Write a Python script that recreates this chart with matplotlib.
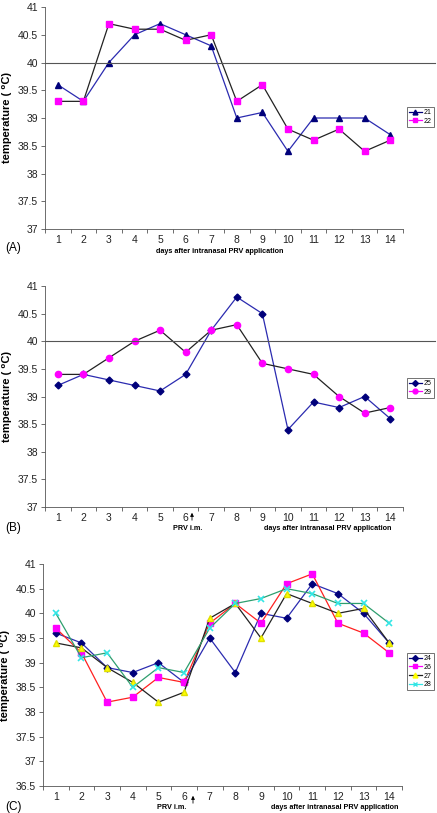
import matplotlib
matplotlib.use("Agg")
import matplotlib.pyplot as plt
from matplotlib.lines import Line2D

plt.rcParams['font.family'] = ['Liberation Sans', 'DejaVu Sans']

days = list(range(1, 15))

# Panel A
a_21 = [39.6, 39.3, 40.0, 40.5, 40.7, 40.5, 40.3, 39.0, 39.1, 38.4, 39.0, 39.0, 39.0, 38.7]
a_22 = [39.3, 39.3, 40.7, 40.6, 40.6, 40.4, 40.5, 39.3, 39.6, 38.8, 38.6, 38.8, 38.4, 38.6]
# Panel B
b_25 = [39.2, 39.4, 39.3, 39.2, 39.1, 39.4, 40.2, 40.8, 40.5, 38.4, 38.9, 38.8, 39.0, 38.6]
b_29 = [39.4, 39.4, 39.7, 40.0, 40.2, 39.8, 40.2, 40.3, 39.6, 39.5, 39.4, 39.0, 38.7, 38.8]
# Panel C
c_24 = [39.6, 39.4, 38.9, 38.8, 39.0, 38.6, 39.5, 38.8, 40.0, 39.9, 40.6, 40.4, 40.0, 39.4]
c_26 = [39.7, 39.2, 38.2, 38.3, 38.7, 38.6, 39.8, 40.2, 39.8, 40.6, 40.8, 39.8, 39.6, 39.2]
c_27 = [39.4, 39.3, 38.9, 38.6, 38.2, 38.4, 39.9, 40.2, 39.5, 40.4, 40.2, 40.0, 40.1, 39.4]
c_28 = [40.0, 39.1, 39.2, 38.5, 38.9, 38.8, 39.7, 40.2, 40.3, 40.5, 40.4, 40.2, 40.2, 39.8]

yticks_ab = [37, 37.5, 38, 38.5, 39, 39.5, 40, 40.5, 41]
yticks_c = [36.5, 37, 37.5, 38, 38.5, 39, 39.5, 40, 40.5, 41]
xlabel_text = "days after intranasal PRV application"
ylabel_text = "temperature ( \u2070C)"

W, H = 437, 813
fig = plt.figure(figsize=(W / 100, H / 100), dpi=100)


def make_ax(top_px, bot_px, left_px=45, right_px=403):
    return fig.add_axes([left_px / W, 1 - bot_px / H, (right_px - left_px) / W, (bot_px - top_px) / H])


def style(ax, yticks):
    ax.set_xlim(0.5, 14.5)
    ax.set_ylim(yticks[0], yticks[-1])
    ax.set_yticks(yticks)
    ax.set_yticklabels([("%g" % v) for v in yticks], fontsize=7.5, color='#222222')
    ax.set_xticks(days)
    ax.set_xticklabels([str(d) for d in days], fontsize=7.5, color='#222222')
    ax.set_xticks([d + 0.5 for d in range(0, 15)], minor=True)
    ax.tick_params(axis='x', which='major', length=0, pad=4)
    ax.tick_params(axis='x', which='minor', length=3, width=0.6, direction='out', color='#555555')
    ax.tick_params(axis='y', length=3, width=0.6, direction='out', pad=2, color='#555555')
    for s in ['top', 'right']:
        ax.spines[s].set_visible(False)
    for s in ['left', 'bottom']:
        ax.spines[s].set_linewidth(0.6)
        ax.spines[s].set_color('#555555')
    ax.set_ylabel(ylabel_text, fontsize=8, fontweight='bold', labelpad=4)


def refline(ax):
    ln = Line2D([0, 1.09], [40, 40], transform=ax.get_yaxis_transform(), color='#555555',
                lw=0.8, clip_on=False)
    ax.add_line(ln)


def legend(ax, x_px, y_px, handle_specs):
    handles = [Line2D([], [], color=lc, lw=0.9, marker=m, ms=ms, mfc=mf, mec=mf, label=lab)
               for (lab, lc, m, ms, mf) in handle_specs]
    lg = ax.legend(handles=handles, loc='upper left', bbox_to_anchor=(x_px / W, 1 - y_px / H),
                   bbox_transform=fig.transFigure, fontsize=5, frameon=True, fancybox=False,
                   handlelength=1.8, handletextpad=0.3, borderpad=0.3, labelspacing=0.25,
                   borderaxespad=0)
    lg.get_frame().set_edgecolor('#333333')
    lg.get_frame().set_linewidth(0.6)


navy = '#00007a'
mag = '#ff00ff'

# ---- Panel A
axA = make_ax(7, 229)
axA.plot(days, a_21, color='#2b2bb0', lw=0.9, marker='^', ms=4.5, mfc=navy, mec=navy)
axA.plot(days, a_22, color='#222222', lw=0.9, marker='s', ms=4.5, mfc=mag, mec=mag)
style(axA, yticks_ab)
refline(axA)
legend(axA, 407, 107, [('21', navy, '^', 3.5, navy), ('22', mag, 's', 3.5, mag)])
fig.text(220 / W, 1 - 251 / H, xlabel_text, fontsize=5.2, fontweight='bold', ha='center', va='center')
fig.text(5 / W, 1 - 248 / H, "(A)", fontsize=8.5, ha='left', va='center')

# ---- Panel B
axB = make_ax(286, 507)
axB.plot(days, b_25, color='#2b2bb0', lw=0.9, marker='D', ms=3.5, mfc=navy, mec=navy)
axB.plot(days, b_29, color='#222222', lw=0.9, marker='o', ms=4.5, mfc=mag, mec=mag)
style(axB, yticks_ab)
refline(axB)
legend(axB, 407, 378, [('25', navy, 'D', 3, navy), ('29', mag, 'o', 3.5, mag)])
fig.text(328 / W, 1 - 528 / H, xlabel_text, fontsize=5.2, fontweight='bold', ha='center', va='center')
fig.text(188 / W, 1 - 528 / H, "PRV i.m.", fontsize=5.2, fontweight='bold', ha='center', va='center')
fig.text(5 / W, 1 - 528 / H, "(B)", fontsize=8.5, ha='left', va='center')
fig.add_artist(matplotlib.patches.FancyArrowPatch((192 / W, 1 - 523 / H), (192 / W, 1 - 510 / H),
                                                  transform=fig.transFigure, arrowstyle='-|>',
                                                  mutation_scale=5, lw=0.6, color='black'))

# ---- Panel C
axC = make_ax(564, 786, 43, 402)
axC.plot(days, c_24, color='#2b2bb0', lw=0.9, marker='D', ms=3.5, mfc=navy, mec=navy)
axC.plot(days, c_26, color='#ff2020', lw=0.9, marker='s', ms=4.5, mfc=mag, mec=mag)
axC.plot(days, c_27, color='#222222', lw=0.9, marker='^', ms=4.5, mfc='#ffff00', mec='#e0e000')
axC.plot(days, c_28, color='#2e9e6e', lw=0.9, marker='x', ms=4.5, mfc='#33ffff', mec='#33e6e6', mew=1.2)
style(axC, yticks_c)
legend(axC, 407, 653, [('24', navy, 'D', 3, navy), ('26', mag, 's', 3.5, mag),
                       ('27', '#222222', '^', 3.5, '#ffff00'), ('28', '#33e6e6', 'x', 3.5, '#33e6e6')])
fig.text(335 / W, 1 - 807 / H, xlabel_text, fontsize=5.2, fontweight='bold', ha='center', va='center')
fig.text(172 / W, 1 - 807 / H, "PRV i.m.", fontsize=5.2, fontweight='bold', ha='center', va='center')
fig.text(5 / W, 1 - 807 / H, "(C)", fontsize=8.5, ha='left', va='center')
fig.add_artist(matplotlib.patches.FancyArrowPatch((193 / W, 1 - 806 / H), (193 / W, 1 - 793 / H),
                                                  transform=fig.transFigure, arrowstyle='-|>',
                                                  mutation_scale=5, lw=0.6, color='black'))

fig.savefig("out.png", dpi=100)
